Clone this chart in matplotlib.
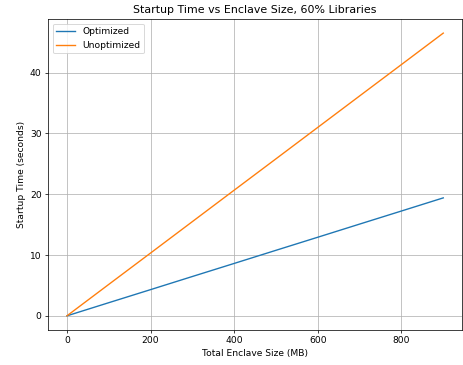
import matplotlib
matplotlib.use('Agg')
import matplotlib.pyplot as plt

sizes = [0, 100, 200, 300, 400, 500, 600, 700, 800, 900]
optimized = [0.0, 2.16, 4.31, 6.47, 8.62, 10.78, 12.93, 15.09, 17.24, 19.4]
unoptimized = [0.0, 5.17, 10.33, 15.5, 20.67, 25.83, 31.0, 36.17, 41.33, 46.5]

# small dpi so the default font sizes come out like the reference
dpi = 66
fig, ax = plt.subplots(figsize=(463 / dpi, 365 / dpi), dpi=dpi)
ax.plot(sizes, optimized, label='Optimized')
ax.plot(sizes, unoptimized, label='Unoptimized')
ax.set_title('Startup Time vs Enclave Size, 60% Libraries')
ax.set_xlabel('Total Enclave Size (MB)')
ax.set_ylabel('Startup Time (seconds)')
ax.grid(True)
ax.legend(loc='upper left')
fig.subplots_adjust(left=0.104, right=0.998, top=0.948, bottom=0.096)
fig.savefig('out.png', dpi=dpi)
